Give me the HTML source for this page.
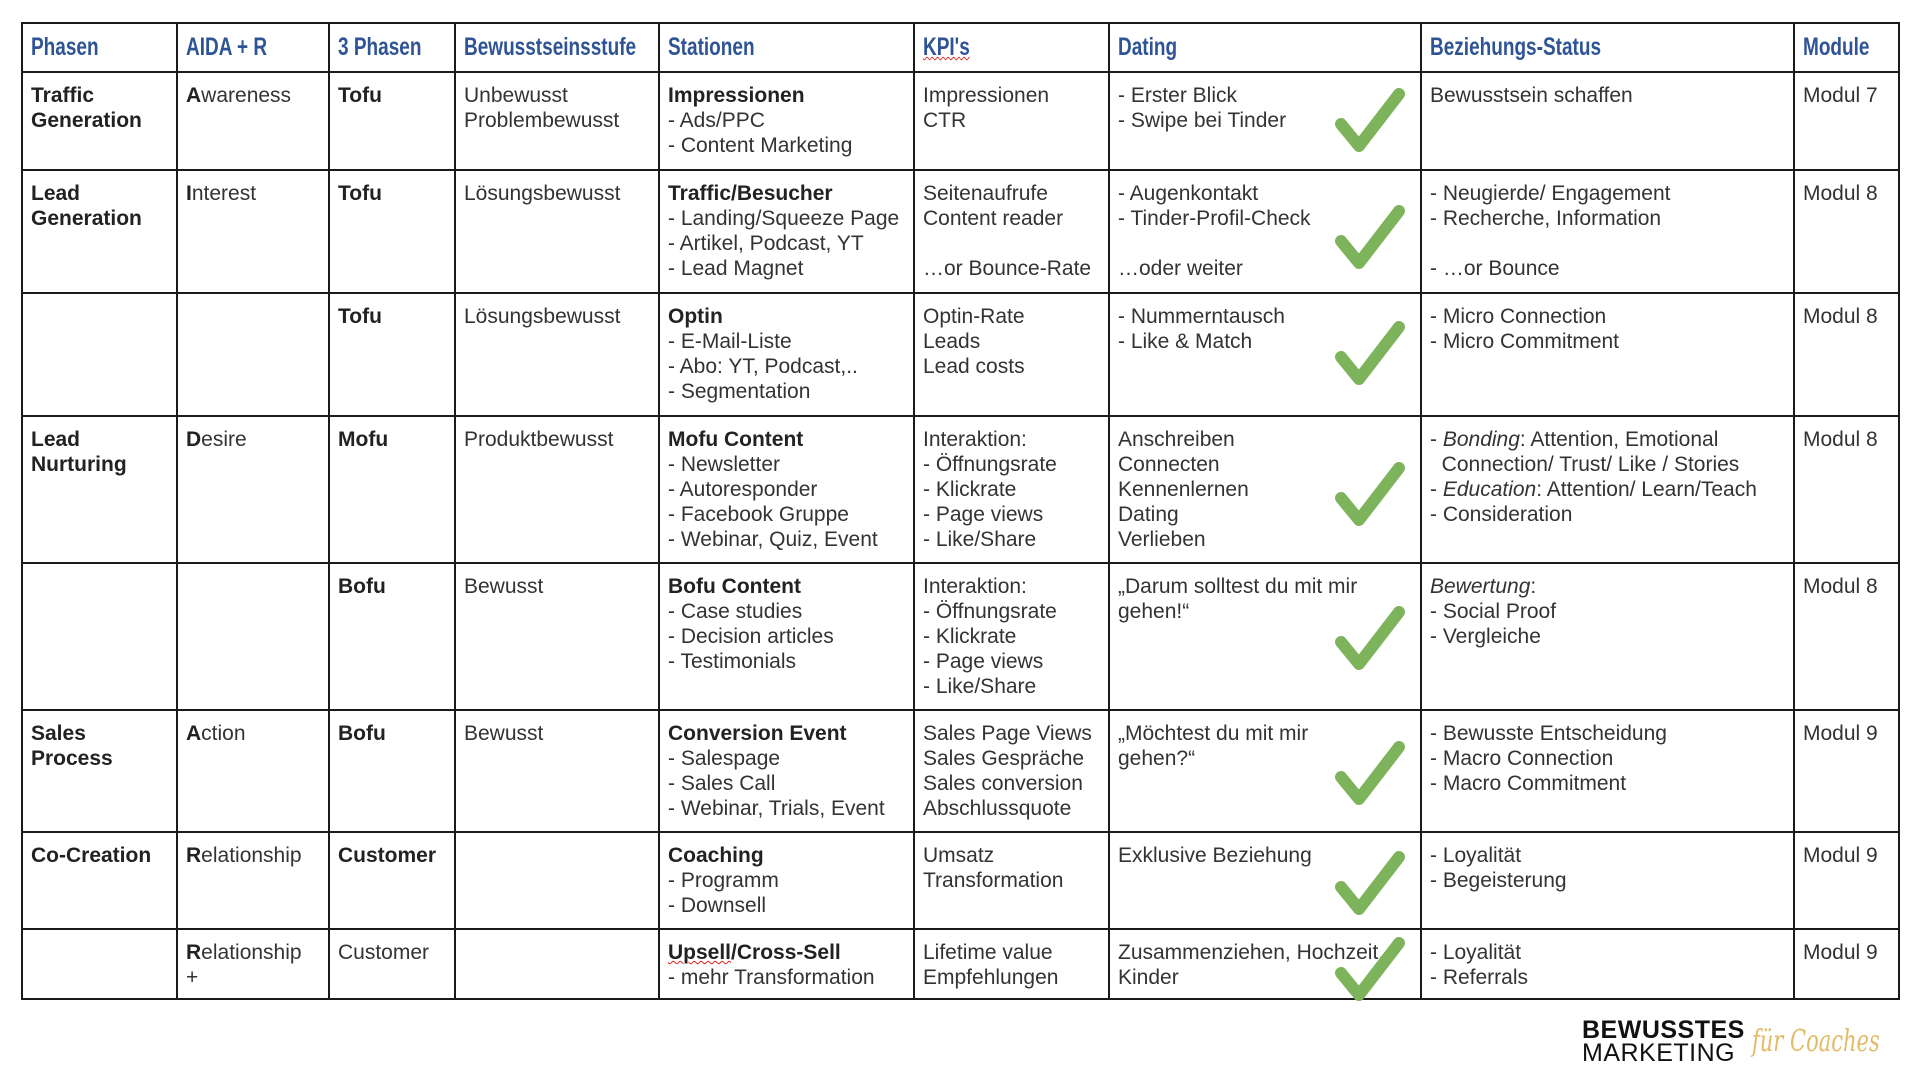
<!DOCTYPE html>
<html><head><meta charset="utf-8">
<style>
html,body{margin:0;padding:0;background:#fff;width:1920px;height:1080px;overflow:hidden;}
table{position:absolute;left:21px;top:22px;border-collapse:collapse;table-layout:fixed;width:1877px;
font-family:"Liberation Sans",sans-serif;font-size:21px;line-height:25px;color:#333;}
td,th{border:2px solid #1a1a1a;vertical-align:top;padding:10px 8px 0 8px;overflow:hidden;text-align:left;white-space:nowrap;}
td.v{overflow:visible}
th{color:#2f5496;font-family:"Liberation Sans",sans-serif;font-weight:bold;font-size:25px;vertical-align:middle;padding-top:0;}
th span{display:inline-block;transform:scaleX(0.76);transform-origin:left center;}
b{color:#222}
.sq{text-decoration:underline wavy #d22;text-decoration-thickness:1px;}
.chk{position:absolute;left:1335px;width:70px;height:64px;}
.logo{position:absolute;left:1582px;top:1019px;font-family:"Liberation Sans",sans-serif;font-size:25px;line-height:23px;color:#111;letter-spacing:0.5px;white-space:nowrap}
.fc{position:absolute;left:1752px;top:1024px;font-family:"DejaVu Serif",serif;font-style:italic;font-size:30px;color:#e2bb66;white-space:nowrap;transform:scaleX(0.7);transform-origin:left top;}
</style></head><body>
<table>
<colgroup><col style="width:155px"><col style="width:152px"><col style="width:126px"><col style="width:204px"><col style="width:255px"><col style="width:195px"><col style="width:312px"><col style="width:373px"><col style="width:105px"></colgroup>
<tr style="height:49px"><th><span>Phasen</span></th><th><span>AIDA + R</span></th><th><span>3 Phasen</span></th><th><span>Bewusstseinsstufe</span></th><th><span>Stationen</span></th><th><span class="sq">KPI's</span></th><th><span>Dating</span></th><th><span>Beziehungs-Status</span></th><th><span>Module</span></th></tr>
<tr style="height:98px"><td><b>Traffic<br>Generation</b></td><td><b>A</b>wareness</td><td><b>Tofu</b></td><td>Unbewusst<br>Problembewusst</td><td><b>Impressionen</b><br>- Ads/PPC<br>- Content Marketing</td><td>Impressionen<br>CTR</td><td>- Erster Blick<br>- Swipe bei Tinder</td><td>Bewusstsein schaffen</td><td>Modul 7</td></tr>
<tr style="height:123px"><td><b>Lead<br>Generation</b></td><td><b>I</b>nterest</td><td><b>Tofu</b></td><td>Lösungsbewusst</td><td><b>Traffic/Besucher</b><br>- Landing/Squeeze Page<br>- Artikel, Podcast, YT<br>- Lead Magnet</td><td>Seitenaufrufe<br>Content reader<br><br>…or Bounce-Rate</td><td>- Augenkontakt<br>- Tinder-Profil-Check<br><br>…oder weiter</td><td>- Neugierde/ Engagement<br>- Recherche, Information<br><br>- …or Bounce</td><td>Modul 8</td></tr>
<tr style="height:123px"><td></td><td></td><td><b>Tofu</b></td><td>Lösungsbewusst</td><td><b>Optin</b><br>- E-Mail-Liste<br>- Abo: YT, Podcast,..<br>- Segmentation</td><td>Optin-Rate<br>Leads<br>Lead costs</td><td>- Nummerntausch<br>- Like &amp; Match</td><td>- Micro Connection<br>- Micro Commitment</td><td>Modul 8</td></tr>
<tr style="height:147px"><td><b>Lead<br>Nurturing</b></td><td><b>D</b>esire</td><td><b>Mofu</b></td><td>Produktbewusst</td><td><b>Mofu Content</b><br>- Newsletter<br>- Autoresponder<br>- Facebook Gruppe<br>- Webinar, Quiz, Event</td><td>Interaktion:<br>- Öffnungsrate<br>- Klickrate<br>- Page views<br>- Like/Share</td><td>Anschreiben<br>Connecten<br>Kennenlernen<br>Dating<br>Verlieben</td><td>- <i>Bonding</i>: Attention, Emotional<br>&nbsp;&nbsp;Connection/ Trust/ Like / Stories<br>- <i>Education</i>: Attention/ Learn/Teach<br>- Consideration</td><td>Modul 8</td></tr>
<tr style="height:147px"><td></td><td></td><td><b>Bofu</b></td><td>Bewusst</td><td><b>Bofu Content</b><br>- Case studies<br>- Decision articles<br>- Testimonials</td><td>Interaktion:<br>- Öffnungsrate<br>- Klickrate<br>- Page views<br>- Like/Share</td><td>„Darum solltest du mit mir<br>gehen!“</td><td><i>Bewertung</i>:<br>- Social Proof<br>- Vergleiche</td><td>Modul 8</td></tr>
<tr style="height:122px"><td><b>Sales<br>Process</b></td><td><b>A</b>ction</td><td><b>Bofu</b></td><td>Bewusst</td><td><b>Conversion Event</b><br>- Salespage<br>- Sales Call<br>- Webinar, Trials, Event</td><td>Sales Page Views<br>Sales Gespräche<br>Sales conversion<br>Abschlussquote</td><td>„Möchtest du mit mir<br>gehen?“</td><td>- Bewusste Entscheidung<br>- Macro Connection<br>- Macro Commitment</td><td>Modul 9</td></tr>
<tr style="height:97px"><td><b>Co-Creation</b></td><td><b>R</b>elationship</td><td><b>Customer</b></td><td></td><td><b>Coaching</b><br>- Programm<br>- Downsell</td><td>Umsatz<br>Transformation</td><td>Exklusive Beziehung</td><td>- Loyalität<br>- Begeisterung</td><td>Modul 9</td></tr>
<tr style="height:70px"><td></td><td><b>R</b>elationship<br>+</td><td>Customer</td><td></td><td><b><span class="sq">Upsell</span>/Cross-Sell</b><br>- mehr Transformation</td><td>Lifetime value<br>Empfehlungen</td><td class="v">Zusammenziehen, Hochzeit,<br>Kinder</td><td>- Loyalität<br>- Referrals</td><td>Modul 9</td></tr>
</table>
<svg width="0" height="0" style="position:absolute"><defs><symbol id="c" viewBox="0 0 70 64"><path d="M6 36 L24 58 L64 6" fill="none" stroke="#7db35a" stroke-width="12" stroke-linecap="round" stroke-linejoin="round"/></symbol></defs></svg>
<svg class="chk" style="top:88px"><use href="#c"/></svg>
<svg class="chk" style="top:205px"><use href="#c"/></svg>
<svg class="chk" style="top:321px"><use href="#c"/></svg>
<svg class="chk" style="top:462px"><use href="#c"/></svg>
<svg class="chk" style="top:606px"><use href="#c"/></svg>
<svg class="chk" style="top:741px"><use href="#c"/></svg>
<svg class="chk" style="top:851px"><use href="#c"/></svg>
<svg class="chk" style="top:937px"><use href="#c"/></svg>
<div class="logo"><b style="color:#111">BEWUSSTES</b><br>MARKETING</div>
<div class="fc">für Coaches</div>
</body></html>
